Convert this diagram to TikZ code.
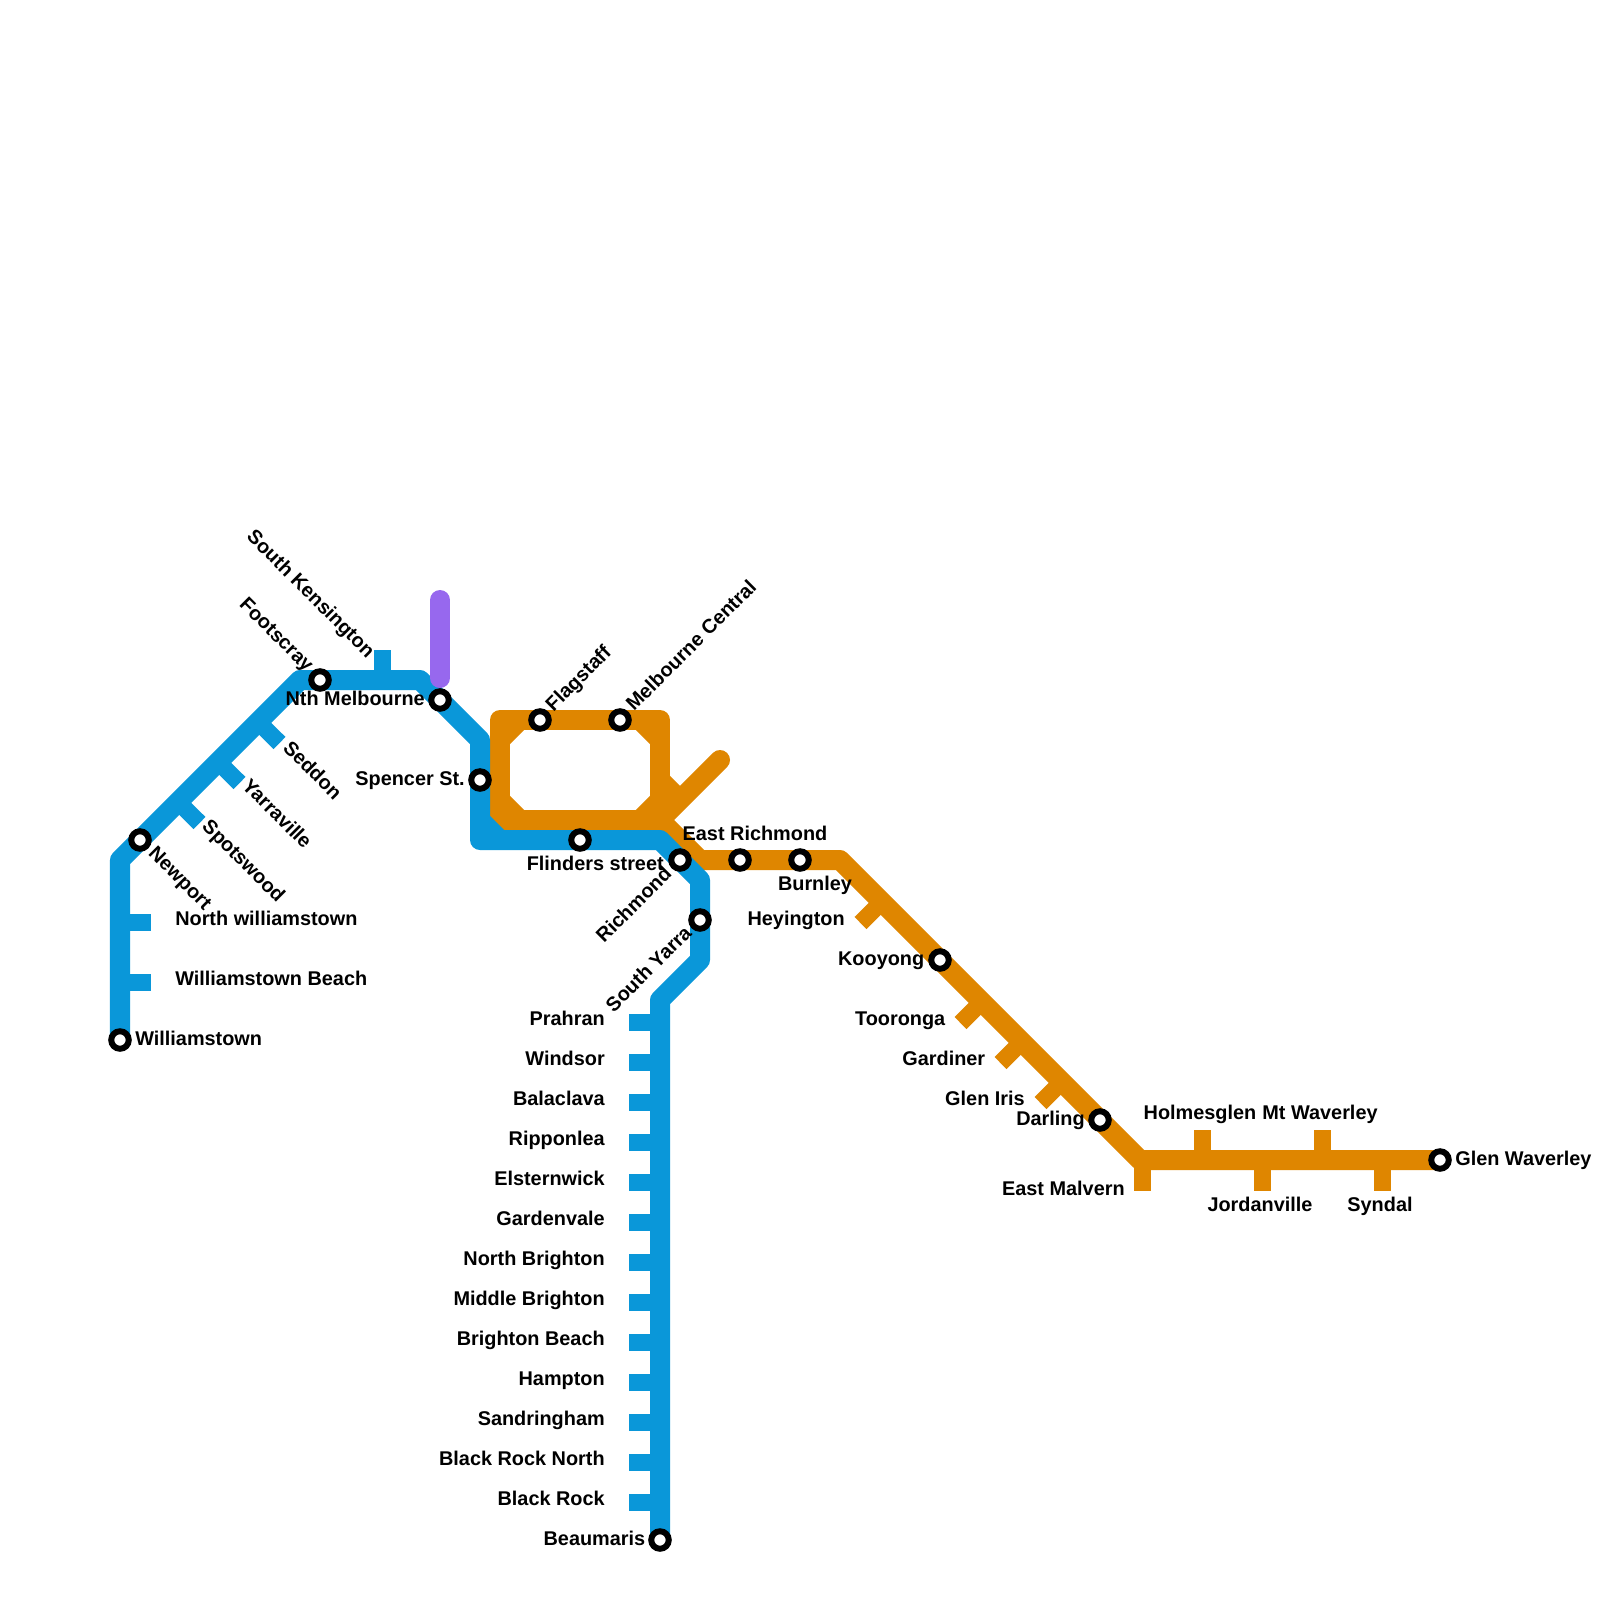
\documentclass[tikz,border=0pt]{standalone}
\usepackage{fontspec}
\setmainfont{Liberation Sans}
\usepackage{xcolor}
\definecolor{lineblue}{HTML}{0A97D9}
\definecolor{lineorange}{HTML}{DF8600}
\definecolor{linepurple}{HTML}{9768EE}
\begin{document}
\begin{tikzpicture}[x=0.025cm,y=-0.025cm,
		track/.style={line width=0.5cm,line join=round},
		bluestub/.style={draw=lineblue,line width=0.425cm},
		orangestub/.style={draw=lineorange,line width=0.425cm},
		station/.style={circle,draw=black,fill=white,line width=0.15cm,minimum size=0.4375cm,inner sep=0pt},
		lbl/.style={inner sep=0pt,font=\fontsize{14.13}{17}\selectfont\bfseries}]
			
			\useasboundingbox (0,0) rectangle (1600,1600);
			
			\coordinate (williamstown) at (120,1040);
			\coordinate (bendnewport) at (120,860);
			\coordinate (newport) at (140,840);
			\coordinate (bendfootscray) at (300,680);
			\coordinate (footscray) at (320,680);
			\coordinate (bendnth) at (420,680);
			\coordinate (nthmelbourne) at (440,700);
			\coordinate (bendspencer) at (480,740);
			\coordinate (spencer) at (480,780);
			\coordinate (bendcorner) at (480,840);
			\coordinate (chamfera) at (480,820);
			\coordinate (chamferb) at (500,840);
			\coordinate (flinders) at (580,840);
			\coordinate (bendflinders) at (660,840);
			\coordinate (richmond) at (680,860);
			\coordinate (bendrichmond) at (700,880);
			\coordinate (southyarra) at (700,920);
			\coordinate (bendyarra) at (700,960);
			\coordinate (bendprahran) at (660,1000);
			\coordinate (beaumaris) at (660,1540);
			
			\coordinate (looptl) at (500,720);
			\coordinate (looptr) at (660,720);
			\coordinate (loopbr) at (660,820);
			\coordinate (loopbl) at (500,820);
			\coordinate (flagstaff) at (540,720);
			\coordinate (melbcentral) at (620,720);
			\coordinate (loopa) at (500,740);
			\coordinate (loopb) at (520,720);
			\coordinate (loopc) at (640,720);
			\coordinate (loopd) at (660,740);
			\coordinate (loope) at (660,800);
			\coordinate (loopf) at (640,820);
			\coordinate (loopg) at (520,820);
			\coordinate (looph) at (500,800);
			\coordinate (spura) at (660,780);
			\coordinate (spurb) at (680,800);
			\coordinate (spurend) at (720,760);
			\coordinate (bendeast) at (700,860);
			\coordinate (eastrichmond) at (740,860);
			\coordinate (burnley) at (800,860);
			\coordinate (bendburnley) at (840,860);
			\coordinate (kooyong) at (940,960);
			\coordinate (darling) at (1100,1120);
			\coordinate (bendmalvern) at (1140,1160);
			\coordinate (glenwaverley) at (1440,1160);
			
			\coordinate (purpletop) at (440,600);
			\coordinate (purpleend) at (440,678);
			
			\draw[track,lineorange] (looptl)--(looptr)--(loopbr)--(loopbl)--cycle;
			\draw[track,lineorange] (loopa)--(loopb);
			\draw[track,lineorange] (loopc)--(loopd);
			\draw[track,lineorange] (loope)--(loopf);
			\draw[track,lineorange] (loopg)--(looph);
			\draw[track,lineorange] (spura)--(spurb);
			\draw[track,lineorange,line cap=round] (spurend)--(loopbr);
			\draw[track,lineorange] (loopbr)--(bendeast)--(bendburnley)--(bendmalvern)--(glenwaverley);
			
			\coordinate (holmesglena) at (1202.5,1160);
			\coordinate (holmesglenb) at (1202.5,1130);
			\coordinate (jordanvillea) at (1262.5,1160);
			\coordinate (jordanvilleb) at (1262.5,1191);
			\coordinate (waverleya) at (1322.5,1160);
			\coordinate (waverleyb) at (1322.5,1130);
			\coordinate (syndala) at (1382.5,1160);
			\coordinate (syndalb) at (1382.5,1191);
			\coordinate (malverna) at (1142.5,1160);
			\coordinate (malvernb) at (1142.5,1191);
			\coordinate (heyingtona) at (881.8,901.8);
			\coordinate (heyingtonb) at (860.5,923);
			\coordinate (tooronga) at (981.8,1001.8);
			\coordinate (toorongb) at (960.5,1023);
			\coordinate (gardinera) at (1021.8,1041.8);
			\coordinate (gardinerb) at (1000.5,1063);
			\coordinate (gleniris) at (1061.8,1081.8);
			\coordinate (glenirisb) at (1040.5,1103);
			
			\draw[orangestub] (holmesglena)--(holmesglenb);
			\draw[orangestub] (jordanvillea)--(jordanvilleb);
			\draw[orangestub] (waverleya)--(waverleyb);
			\draw[orangestub] (syndala)--(syndalb);
			\draw[orangestub] (malverna)--(malvernb);
			\draw[orangestub] (heyingtona)--(heyingtonb);
			\draw[orangestub] (tooronga)--(toorongb);
			\draw[orangestub] (gardinera)--(gardinerb);
			\draw[orangestub] (gleniris)--(glenirisb);
			
			\draw[track,lineblue] (williamstown)--(bendnewport)--(bendfootscray)--(bendnth)--(bendspencer)--(bendcorner)--(bendflinders)--(bendrichmond)--(bendyarra)--(bendprahran)--(beaumaris);
			\draw[track,lineblue] (chamfera)--(chamferb);
			
			\coordinate (kensingtona) at (382.5,680);
			\coordinate (kensingtonb) at (382.5,650);
			\coordinate (seddona) at (258.2,721.8);
			\coordinate (seddonb) at (279.5,743);
			\coordinate (yarravillea) at (218.2,761.8);
			\coordinate (yarravilleb) at (239.5,783);
			\coordinate (spotswooda) at (178.2,801.8);
			\coordinate (spotswoodb) at (199.5,823);
			\coordinate (northwilla) at (120,922.5);
			\coordinate (northwillb) at (151,922.5);
			\coordinate (willbeacha) at (120,982.5);
			\coordinate (willbeachb) at (151,982.5);
			
			\draw[bluestub] (kensingtona)--(kensingtonb);
			\draw[bluestub] (seddona)--(seddonb);
			\draw[bluestub] (yarravillea)--(yarravilleb);
			\draw[bluestub] (spotswooda)--(spotswoodb);
			\draw[bluestub] (northwilla)--(northwillb);
			\draw[bluestub] (willbeacha)--(willbeachb);
			
			\coordinate (prahrana) at (660,1022.5);
			\coordinate (prahranb) at (629,1022.5);
			\coordinate (windsora) at (660,1062.5);
			\coordinate (windsorb) at (629,1062.5);
			\coordinate (balaclavaa) at (660,1102.5);
			\coordinate (balaclavab) at (629,1102.5);
			\coordinate (ripponleaa) at (660,1142.5);
			\coordinate (ripponleab) at (629,1142.5);
			\coordinate (elsterna) at (660,1182.5);
			\coordinate (elsternb) at (629,1182.5);
			\coordinate (gardenvalea) at (660,1222.5);
			\coordinate (gardenvaleb) at (629,1222.5);
			\coordinate (northbrightona) at (660,1262.5);
			\coordinate (northbrightonb) at (629,1262.5);
			\coordinate (middlebrightona) at (660,1302.5);
			\coordinate (middlebrightonb) at (629,1302.5);
			\coordinate (brightonbeacha) at (660,1342.5);
			\coordinate (brightonbeachb) at (629,1342.5);
			\coordinate (hamptona) at (660,1382.5);
			\coordinate (hamptonb) at (629,1382.5);
			\coordinate (sandringhama) at (660,1422.5);
			\coordinate (sandringhamb) at (629,1422.5);
			\coordinate (rocknortha) at (660,1462.5);
			\coordinate (rocknorthb) at (629,1462.5);
			\coordinate (blackrocka) at (660,1502.5);
			\coordinate (blackrockb) at (629,1502.5);
			
			\draw[bluestub] (prahrana)--(prahranb);
			\draw[bluestub] (windsora)--(windsorb);
			\draw[bluestub] (balaclavaa)--(balaclavab);
			\draw[bluestub] (ripponleaa)--(ripponleab);
			\draw[bluestub] (elsterna)--(elsternb);
			\draw[bluestub] (gardenvalea)--(gardenvaleb);
			\draw[bluestub] (northbrightona)--(northbrightonb);
			\draw[bluestub] (middlebrightona)--(middlebrightonb);
			\draw[bluestub] (brightonbeacha)--(brightonbeachb);
			\draw[bluestub] (hamptona)--(hamptonb);
			\draw[bluestub] (sandringhama)--(sandringhamb);
			\draw[bluestub] (rocknortha)--(rocknorthb);
			\draw[bluestub] (blackrocka)--(blackrockb);
			
			\draw[track,linepurple,line cap=round] (purpletop)--(purpleend);
			
			\node[station] (williamstownst) at (williamstown) {};
			\node[station] (newportst) at (newport) {};
			\node[station] (footscrayst) at (footscray) {};
			\node[station] (nthmelbournest) at (nthmelbourne) {};
			\node[station] (spencerst) at (spencer) {};
			\node[station] (flagstaffst) at (flagstaff) {};
			\node[station] (melbcentralst) at (melbcentral) {};
			\node[station] (flindersst) at (flinders) {};
			\node[station] (richmondst) at (richmond) {};
			\node[station] (southyarrast) at (southyarra) {};
			\node[station] (eastrichmondst) at (eastrichmond) {};
			\node[station] (burnleyst) at (burnley) {};
			\node[station] (kooyongst) at (kooyong) {};
			\node[station] (darlingst) at (darling) {};
			\node[station] (glenwaverleyst) at (glenwaverley) {};
			\node[station] (beaumarisst) at (beaumaris) {};
			
			\node[lbl,anchor=base west] (t1) at (135,1045) {Williamstown};
			\node[lbl,anchor=base west] (t2) at (175,925) {North williamstown};
			\node[lbl,anchor=base west] (t3) at (175,985) {Williamstown Beach};
			\node[lbl,anchor=base west] (t4) at (1455,1165.5) {Glen Waverley};
			\node[lbl,anchor=base west,rotate=-45] (t5) at (147.5,854.5) {Newport};
			\node[lbl,anchor=base west,rotate=-45] (t6) at (201,827.5) {Spotswood};
			\node[lbl,anchor=base west,rotate=-45] (t7) at (241,787) {Yarraville};
			\node[lbl,anchor=base west,rotate=-45] (t8) at (282,749) {Seddon};
			\node[lbl,anchor=base east,rotate=-45] (t9) at (367,659) {South Kensington};
			\node[lbl,anchor=base east,rotate=-45] (t10) at (306,673) {Footscray};
			\node[lbl,anchor=base west,rotate=45] (t11) at (553.5,712.5) {Flagstaff};
			\node[lbl,anchor=base west,rotate=45] (t12) at (634,712) {Melbourne Central};
			\node[lbl,anchor=base east,rotate=45] (t13) at (673,875) {Richmond};
			\node[lbl,anchor=base east,rotate=45] (t14) at (693,934) {South Yarra};
			\node[lbl,anchor=base east] (t15) at (425,705) {Nth Melbourne};
			\node[lbl,anchor=base east] (t16) at (465,785) {Spencer St.};
			\node[lbl,anchor=base east] (t17) at (664,870) {Flinders street};
			\node[lbl,anchor=base] (t18) at (755,840) {East Richmond};
			\node[lbl,anchor=base] (t19) at (815,890) {Burnley};
			\node[lbl,anchor=base east] (t20) at (845,925) {Heyington};
			\node[lbl,anchor=base east] (t21) at (924.5,965) {Kooyong};
			\node[lbl,anchor=base east] (t22) at (945.5,1025) {Tooronga};
			\node[lbl,anchor=base east] (t23) at (985.5,1065) {Gardiner};
			\node[lbl,anchor=base east] (t24) at (1025,1105) {Glen Iris};
			\node[lbl,anchor=base east] (t25) at (1085,1125) {Darling};
			\node[lbl,anchor=base east] (t26) at (1125,1195) {East Malvern};
			\node[lbl,anchor=base] (t27) at (1200,1119) {Holmesglen};
			\node[lbl,anchor=base] (t28) at (1320,1119) {Mt Waverley};
			\node[lbl,anchor=base] (t29) at (1260,1211) {Jordanville};
			\node[lbl,anchor=base] (t30) at (1380,1211) {Syndal};
			\node[lbl,anchor=base east] (t31) at (605,1025) {Prahran};
			\node[lbl,anchor=base east] (t32) at (605,1065) {Windsor};
			\node[lbl,anchor=base east] (t33) at (605,1105) {Balaclava};
			\node[lbl,anchor=base east] (t34) at (605,1145) {Ripponlea};
			\node[lbl,anchor=base east] (t35) at (605,1185) {Elsternwick};
			\node[lbl,anchor=base east] (t36) at (605,1225) {Gardenvale};
			\node[lbl,anchor=base east] (t37) at (605,1265) {North Brighton};
			\node[lbl,anchor=base east] (t38) at (605,1305) {Middle Brighton};
			\node[lbl,anchor=base east] (t39) at (605,1345) {Brighton Beach};
			\node[lbl,anchor=base east] (t40) at (605,1385) {Hampton};
			\node[lbl,anchor=base east] (t41) at (605,1425) {Sandringham};
			\node[lbl,anchor=base east] (t42) at (605,1465) {Black Rock North};
			\node[lbl,anchor=base east] (t43) at (605,1505) {Black Rock};
			\node[lbl,anchor=base east] (t44) at (645.5,1545) {Beaumaris};
			
		\end{tikzpicture}
\end{document}
